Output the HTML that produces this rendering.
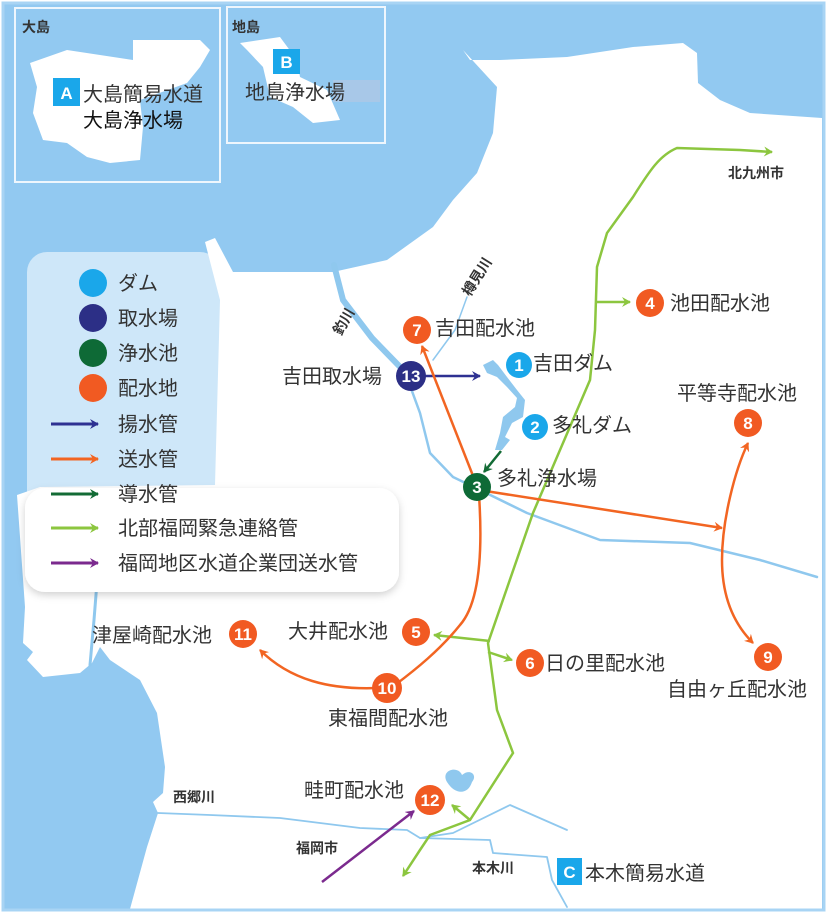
<!DOCTYPE html>
<html><head><meta charset="utf-8"><style>
html,body{margin:0;padding:0;background:#fff}
svg{display:block}
text{font-family:"Liberation Sans","Noto Sans CJK JP",sans-serif}
.l{font-size:20px;fill:#333}
.s{font-size:14px;fill:#333;font-weight:bold}
.n{font-size:17px;fill:#fff;font-weight:bold;text-anchor:middle}
</style></head><body>
<svg width="834" height="921" viewBox="0 0 834 921" xmlns="http://www.w3.org/2000/svg">
<defs>
<marker id="aB" markerWidth="10" markerHeight="10" refX="8" refY="5" orient="auto-start-reverse" markerUnits="userSpaceOnUse"><path d="M0,0 L9,5 L0,10 L3,5Z" fill="#2e3192"/></marker>
<marker id="aO" markerWidth="10" markerHeight="10" refX="8" refY="5" orient="auto-start-reverse" markerUnits="userSpaceOnUse"><path d="M0,0 L9,5 L0,10 L3,5Z" fill="#f26522"/></marker>
<marker id="aD" markerWidth="10" markerHeight="10" refX="8" refY="5" orient="auto-start-reverse" markerUnits="userSpaceOnUse"><path d="M0,0 L9,5 L0,10 L3,5Z" fill="#136b35"/></marker>
<marker id="aG" markerWidth="10" markerHeight="10" refX="8" refY="5" orient="auto-start-reverse" markerUnits="userSpaceOnUse"><path d="M0,0 L9,5 L0,10 L3,5Z" fill="#8cc63f"/></marker>
<marker id="aP" markerWidth="10" markerHeight="10" refX="8" refY="5" orient="auto-start-reverse" markerUnits="userSpaceOnUse"><path d="M0,0 L9,5 L0,10 L3,5Z" fill="#7b2a8e"/></marker>
<filter id="sh" x="-10%" y="-10%" width="120%" height="130%"><feDropShadow dx="0" dy="3" stdDeviation="4" flood-color="#000" flood-opacity="0.18"/></filter>
</defs>
<rect x="0" y="0" width="834" height="921" fill="#fff"/>
<rect x="3" y="3" width="821" height="907" fill="#92c9f1"/>
<path d="M463,50 L470,60 L500,60 L567,57 L633,47 L683,43 L697,53 L698,83 L720,100 L750,113 L822,118 L822,909 L130,909 L147,847 L158,813 L153,802 L163,793 L165,767 L157,713 L140,680 L110,660 L100,647 L92,663 L80,673 L43,677 L27,660 L33,652 L23,643 L25,607 L17,495 L40,487 L215,485 L220,300 L205,242 L215,238 L233,272 L333,272 L387,260 L433,227 L453,200 L477,173 L493,133 L497,87 Z" fill="#fff"/>
<path d="M30,63 L67,50 L133,60 L133,40 L200,40 L210,50 L200,67 L187,83 L140,100 L143,127 L140,160 L110,163 L87,157 L67,143 L43,140 L33,113 L37,87 Z" fill="#fff"/>
<path d="M240,43 L280,37 L297,60 L300,77 L327,90 L340,120 L313,123 L293,107 L270,97 L263,67 L247,50 Z" fill="#fff"/>
<rect x="15" y="8" width="205" height="174" fill="none" stroke="#eef6fd" stroke-width="2"/>
<rect x="227" y="7" width="158" height="136" fill="none" stroke="#eef6fd" stroke-width="2"/>
<g fill="none" stroke="#8fc8ee" stroke-linecap="round" stroke-linejoin="round">
<path d="M334,265 L343,300 L372,338 L405,372" stroke-width="6"/>
<path d="M405,372 L420,413 L430,453 L453,477 L480,490 L527,513 L600,540 L690,543 L760,560 L817,577" stroke-width="2.5"/>
<path d="M467,297 L455,330 L433,360" stroke-width="1.5"/>
<path d="M97,582 L94,620 L90,665" stroke-width="3"/>
<path d="M158,813 L210,815 L280,818 L360,828 L407,830 L420,838 L453,833 L510,805 L567,830" stroke-width="1.8"/>
<path d="M420,838 L490,840 L493,853 L547,857 L552,880 L567,907" stroke-width="1.8"/>
</g>
<path d="M483,365 L493,360 L498,365 L507,377 L517,390 L525,400 L523,417 L512,423 L505,437 L510,440 L502,450 L495,450 L500,433 L503,417 L515,407 L517,398 L507,387 L497,377 L487,373 Z" fill="#8fc8ee"/>
<path d="M447,782 C440,770 458,765 462,775 C470,768 478,775 472,782 C468,795 455,795 447,782Z" fill="#8fc8ee"/>
<rect x="27" y="252" width="193" height="340" rx="20" fill="#fff" fill-opacity="0.55"/>
<rect x="25" y="488" width="374" height="104" rx="20" fill="#fff" filter="url(#sh)"/>
<circle cx="93" cy="283" r="14" fill="#1aa7ea"/>
<circle cx="93" cy="318" r="14" fill="#2c2f86"/>
<circle cx="93" cy="353" r="14" fill="#0e6a36"/>
<circle cx="93" cy="388" r="14" fill="#f15a22"/>
<text x="118" y="290" class="l">ダム</text>
<text x="118" y="325" class="l">取水場</text>
<text x="118" y="360" class="l">浄水池</text>
<text x="118" y="395" class="l">配水地</text>
<text x="118" y="431" class="l">揚水管</text>
<text x="118" y="466" class="l">送水管</text>
<text x="118" y="501" class="l">導水管</text>
<text x="118" y="535" class="l">北部福岡緊急連絡管</text>
<text x="118" y="570" class="l">福岡地区水道企業団送水管</text>
<g stroke-width="3">
<line x1="51" y1="424" x2="98" y2="424" stroke="#2e3192" marker-end="url(#aB)"/>
<line x1="51" y1="459" x2="98" y2="459" stroke="#f26522" marker-end="url(#aO)"/>
<line x1="51" y1="494" x2="98" y2="494" stroke="#136b35" marker-end="url(#aD)"/>
<line x1="51" y1="528" x2="98" y2="528" stroke="#8cc63f" marker-end="url(#aG)"/>
<line x1="51" y1="563" x2="98" y2="563" stroke="#7b2a8e" marker-end="url(#aP)"/>
</g>
<g fill="none" stroke-width="2.5">
<path d="M772,152 L740,150 L677,148 C660,155 650,170 633,197 L607,233 L597,267 L595,330 L590,380 L533,513 L488,643 L497,710 L513,753 L470,820 L430,835 L420,850 L403,876" stroke="#8cc63f" marker-start="url(#aG)" marker-end="url(#aG)"/>
<path d="M597,302 L630,302" stroke="#8cc63f" marker-end="url(#aG)"/>
<path d="M490,641 L434,635" stroke="#8cc63f" marker-end="url(#aG)"/>
<path d="M488,652 L512,660" stroke="#8cc63f" marker-end="url(#aG)"/>
<path d="M470,820 L452,805" stroke="#8cc63f" marker-end="url(#aG)"/>
<path d="M322,882 L414,811" stroke="#7b2a8e" marker-end="url(#aP)"/>
<path d="M424,376 L480,376" stroke="#2e3192" marker-end="url(#aB)"/>
<path d="M501,451 L484,472" stroke="#136b35" marker-end="url(#aD)"/>
<path d="M477,486 L422,346" stroke="#f26522" marker-end="url(#aO)"/>
<path d="M479,490 L722,528" stroke="#f26522" marker-end="url(#aO)"/>
<path d="M753,643 C730,620 722,590 722,560 C722,520 735,470 748,443" stroke="#f26522" marker-start="url(#aO)" marker-end="url(#aO)"/>
<path d="M479,495 C482,540 482,600 460,625 C440,650 415,670 395,685" stroke="#f26522"/>
<path d="M378,688 C330,690 290,680 260,650" stroke="#f26522" marker-end="url(#aO)"/>
</g>
<circle cx="519" cy="365" r="13" fill="#1aa7ea"/><text x="519" y="371" class="n">1</text>
<circle cx="535" cy="427" r="13" fill="#1aa7ea"/><text x="535" y="433" class="n">2</text>
<circle cx="477" cy="487" r="14" fill="#0e6a36"/><text x="477" y="493" class="n">3</text>
<circle cx="650" cy="303" r="14" fill="#f15a22"/><text x="650" y="309" class="n">4</text>
<circle cx="416" cy="632" r="14" fill="#f15a22"/><text x="416" y="638" class="n">5</text>
<circle cx="530" cy="663" r="14" fill="#f15a22"/><text x="530" y="669" class="n">6</text>
<circle cx="417" cy="330" r="14" fill="#f15a22"/><text x="417" y="336" class="n">7</text>
<circle cx="748" cy="423" r="14" fill="#f15a22"/><text x="748" y="429" class="n">8</text>
<circle cx="768" cy="657" r="14" fill="#f15a22"/><text x="768" y="663" class="n">9</text>
<circle cx="387" cy="688" r="15" fill="#f15a22"/><text x="387" y="694" class="n" font-size="15">10</text>
<circle cx="243" cy="634" r="14" fill="#f15a22"/><text x="243" y="640" class="n" font-size="15">11</text>
<circle cx="430" cy="800" r="15" fill="#f15a22"/><text x="430" y="806" class="n" font-size="15">12</text>
<circle cx="411" cy="376" r="15" fill="#2c2f86"/><text x="411" y="382" class="n" font-size="15">13</text>
<text x="533" y="370" class="l">吉田ダム</text>
<text x="552" y="432" class="l">多礼ダム</text>
<text x="497" y="485" class="l">多礼浄水場</text>
<text x="670" y="310" class="l">池田配水池</text>
<text x="435" y="335" class="l">吉田配水池</text>
<text x="282" y="383" class="l">吉田取水場</text>
<text x="677" y="400" class="l">平等寺配水池</text>
<text x="667" y="696" class="l">自由ヶ丘配水池</text>
<text x="545" y="670" class="l">日の里配水池</text>
<text x="288" y="638" class="l">大井配水池</text>
<text x="328" y="725" class="l">東福間配水池</text>
<text x="304" y="797" class="l">畦町配水池</text>
<text x="92" y="642" class="l">津屋崎配水池</text>
<text x="728" y="178" class="s" font-size="13">北九州市</text>
<text x="296" y="853" class="s">福岡市</text>
<text x="472" y="873" class="s">本木川</text>
<text x="173" y="802" class="s">西郷川</text>
<text transform="translate(341,336) rotate(-60)" class="s">釣川</text>
<text transform="translate(470,297) rotate(-58)" class="s">樽見川</text>
<text x="22" y="32" class="s" font-size="16">大島</text>
<text x="232" y="32" class="s" font-size="16">地島</text>
<rect x="53" y="78" width="27" height="28" fill="#1aa7ea"/><text x="66.5" y="99" class="n" font-size="19">A</text>
<text x="83" y="101" class="l" font-size="21">大島簡易水道</text>
<text x="83" y="127" class="l" font-size="21" style="fill:#111">大島浄水場</text>
<rect x="333" y="80" width="47" height="22" fill="#a8c8e8"/>
<rect x="273" y="49" width="27" height="25" fill="#1aa7ea"/><text x="286.5" y="68" class="n" font-size="18">B</text>
<text x="245" y="99" class="l" font-size="21">地島浄水場</text>
<rect x="557" y="858" width="25" height="27" fill="#1aa7ea"/><text x="569.5" y="878" class="n" font-size="18">C</text>
<text x="585" y="880" class="l" font-size="21">本木簡易水道</text>
<rect x="3" y="3" width="821" height="907" fill="none" stroke="#a8d4f4" stroke-width="3"/>
</svg>
</body></html>
